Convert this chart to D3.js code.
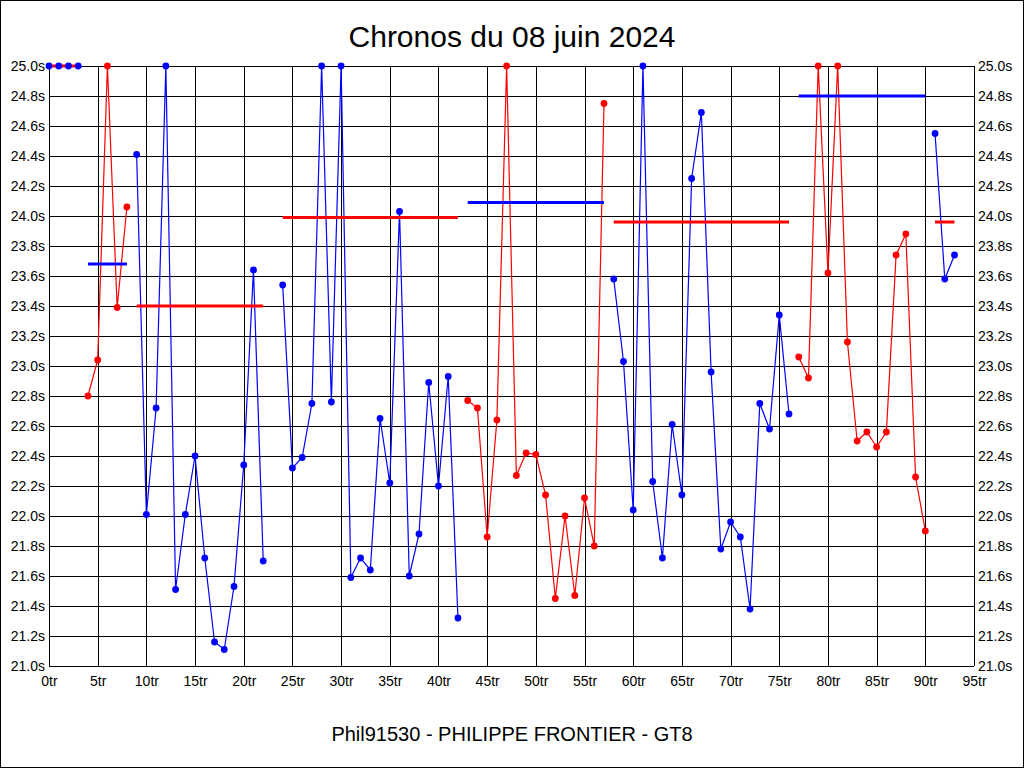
<!DOCTYPE html>
<html>
<head>
<meta charset="utf-8">
<script src="https://cdn.jsdelivr.net/npm/d3@7"></script>
<style>
  body { margin: 0; background: #fff; }
  text { font-family: "Liberation Sans", Arial, sans-serif; }
</style>
</head>
<body>
<div id="container"></div>
<script>
'use strict'
// laps of each stint (first lap), times in seconds (>= 25 clamped to 25)
const stintStart  = [0, 4, 9, 24, 43, 58, 77, 91];
const stintColor  = ["blue", "red", "blue", "blue", "red", "blue", "red", "blue"];
const stintTimes  = [
  [25.0, 25.0, 25.0, 25.0],
  [22.80, 23.04, 25.0, 23.39, 24.06],
  [24.41, 22.01, 22.72, 25.0, 21.51, 22.01, 22.40, 21.72, 21.16, 21.11, 21.53, 22.34, 23.64, 21.70],
  [23.54, 22.32, 22.39, 22.75, 25.0, 22.76, 25.0, 21.59, 21.72, 21.64, 22.65, 22.22, 24.03, 21.60, 21.88, 22.89, 22.20, 22.93, 21.32],
  [22.77, 22.72, 21.86, 22.64, 25.0, 22.27, 22.42, 22.41, 22.14, 21.45, 22.00, 21.47, 22.12, 21.80, 24.75],
  [23.58, 23.03, 22.04, 25.0, 22.23, 21.72, 22.61, 22.14, 24.25, 24.69, 22.96, 21.78, 21.96, 21.86, 21.38, 22.75, 22.58, 23.34, 22.68],
  [23.06, 22.92, 25.0, 23.62, 25.0, 23.16, 22.50, 22.56, 22.46, 22.56, 23.74, 23.88, 22.26, 21.90],
  [24.55, 23.58, 23.74]
];
// average of each stint, drawn in the other colour
const stintAvg    = [25.0, 23.68, 23.40, 23.99, 24.09, 23.96, 24.80, 23.96];
const yTicks      = d3.range(21.0, 25.01, 0.2);
const xTicks      = d3.range(0, 96, 5);

const w = 1024, h = 768;
const padL = 49, padR = 974, padT = 66, padB = 666;

const svg = d3.select("#container").append("svg")
  .attr("width", w).attr("height", h);

svg.append("rect").attr("x", 0.5).attr("y", 0.5).attr("width", w - 1).attr("height", h - 1)
  .attr("fill", "white").attr("stroke", "black");

//Scales
const xScale = d3.scaleLinear().domain([0, 95]).range([padL, padR]);
const yScale = d3.scaleLinear().domain([21, 25]).range([padB, padT]).clamp(true);

//Grid
const grid = svg.append("g").attr("stroke", "black").attr("stroke-width", 1).attr("shape-rendering", "crispEdges");
xTicks.forEach(t => {
  grid.append("line").attr("x1", Math.round(xScale(t)) + 0.5).attr("x2", Math.round(xScale(t)) + 0.5)
    .attr("y1", padT).attr("y2", padB);
});
yTicks.forEach(t => {
  grid.append("line").attr("x1", padL).attr("x2", padR)
    .attr("y1", Math.round(yScale(t)) + 0.5).attr("y2", Math.round(yScale(t)) + 0.5);
});

//Axes labels (left and right)
const yAxisL = d3.axisLeft(yScale).tickValues(yTicks).tickSize(0).tickPadding(4).tickFormat(d => d3.format(".1f")(d) + "s");
const yAxisR = d3.axisRight(yScale).tickValues(yTicks).tickSize(0).tickPadding(4).tickFormat(d => d3.format(".1f")(d) + "s");
const xAxis  = d3.axisBottom(xScale).tickValues(xTicks).tickSize(0).tickPadding(10).tickFormat(d => d + "tr");
[ [yAxisL, "translate(" + padL + ",0)"], [yAxisR, "translate(" + padR + ",0)"], [xAxis, "translate(0," + padB + ")"] ]
  .forEach(([ax, tr]) => {
    const g = svg.append("g").attr("transform", tr).call(ax);
    g.select(".domain").remove();
    g.selectAll("text").style("font-size", "14px").style("font-family", "'Liberation Sans', Arial, sans-serif").attr("fill", "black");
  });

//Stints
const line = d3.line().x(d => xScale(d.lap)).y(d => yScale(d.t));
stintTimes.forEach((times, i) => {
  const pts = times.map((t, k) => ({lap: stintStart[i] + k, t: t}));
  const c = stintColor[i];
  svg.append("path").datum(pts).attr("d", line)
    .attr("fill", "none").attr("stroke", c).attr("stroke-width", 1.2);
  // average line
  const avgColor = c === "blue" ? "red" : "blue";
  svg.append("line")
    .attr("x1", xScale(pts[0].lap)).attr("x2", xScale(pts[pts.length - 1].lap))
    .attr("y1", yScale(stintAvg[i])).attr("y2", yScale(stintAvg[i]))
    .attr("stroke", avgColor).attr("stroke-width", 3);
  svg.selectAll(null).data(pts).enter().append("circle")
    .attr("cx", d => xScale(d.lap)).attr("cy", d => yScale(d.t))
    .attr("r", 3.4).attr("fill", c);
});

//Texts
svg.append("text").text("Chronos du 08 juin 2024")
  .attr("x", w / 2).attr("y", 47).attr("text-anchor", "middle").style("font-size", "30px");
svg.append("text").text("Phil91530 - PHILIPPE FRONTIER - GT8")
  .attr("x", w / 2).attr("y", 741).attr("text-anchor", "middle").style("font-size", "20px");
</script>
</body>
</html>
